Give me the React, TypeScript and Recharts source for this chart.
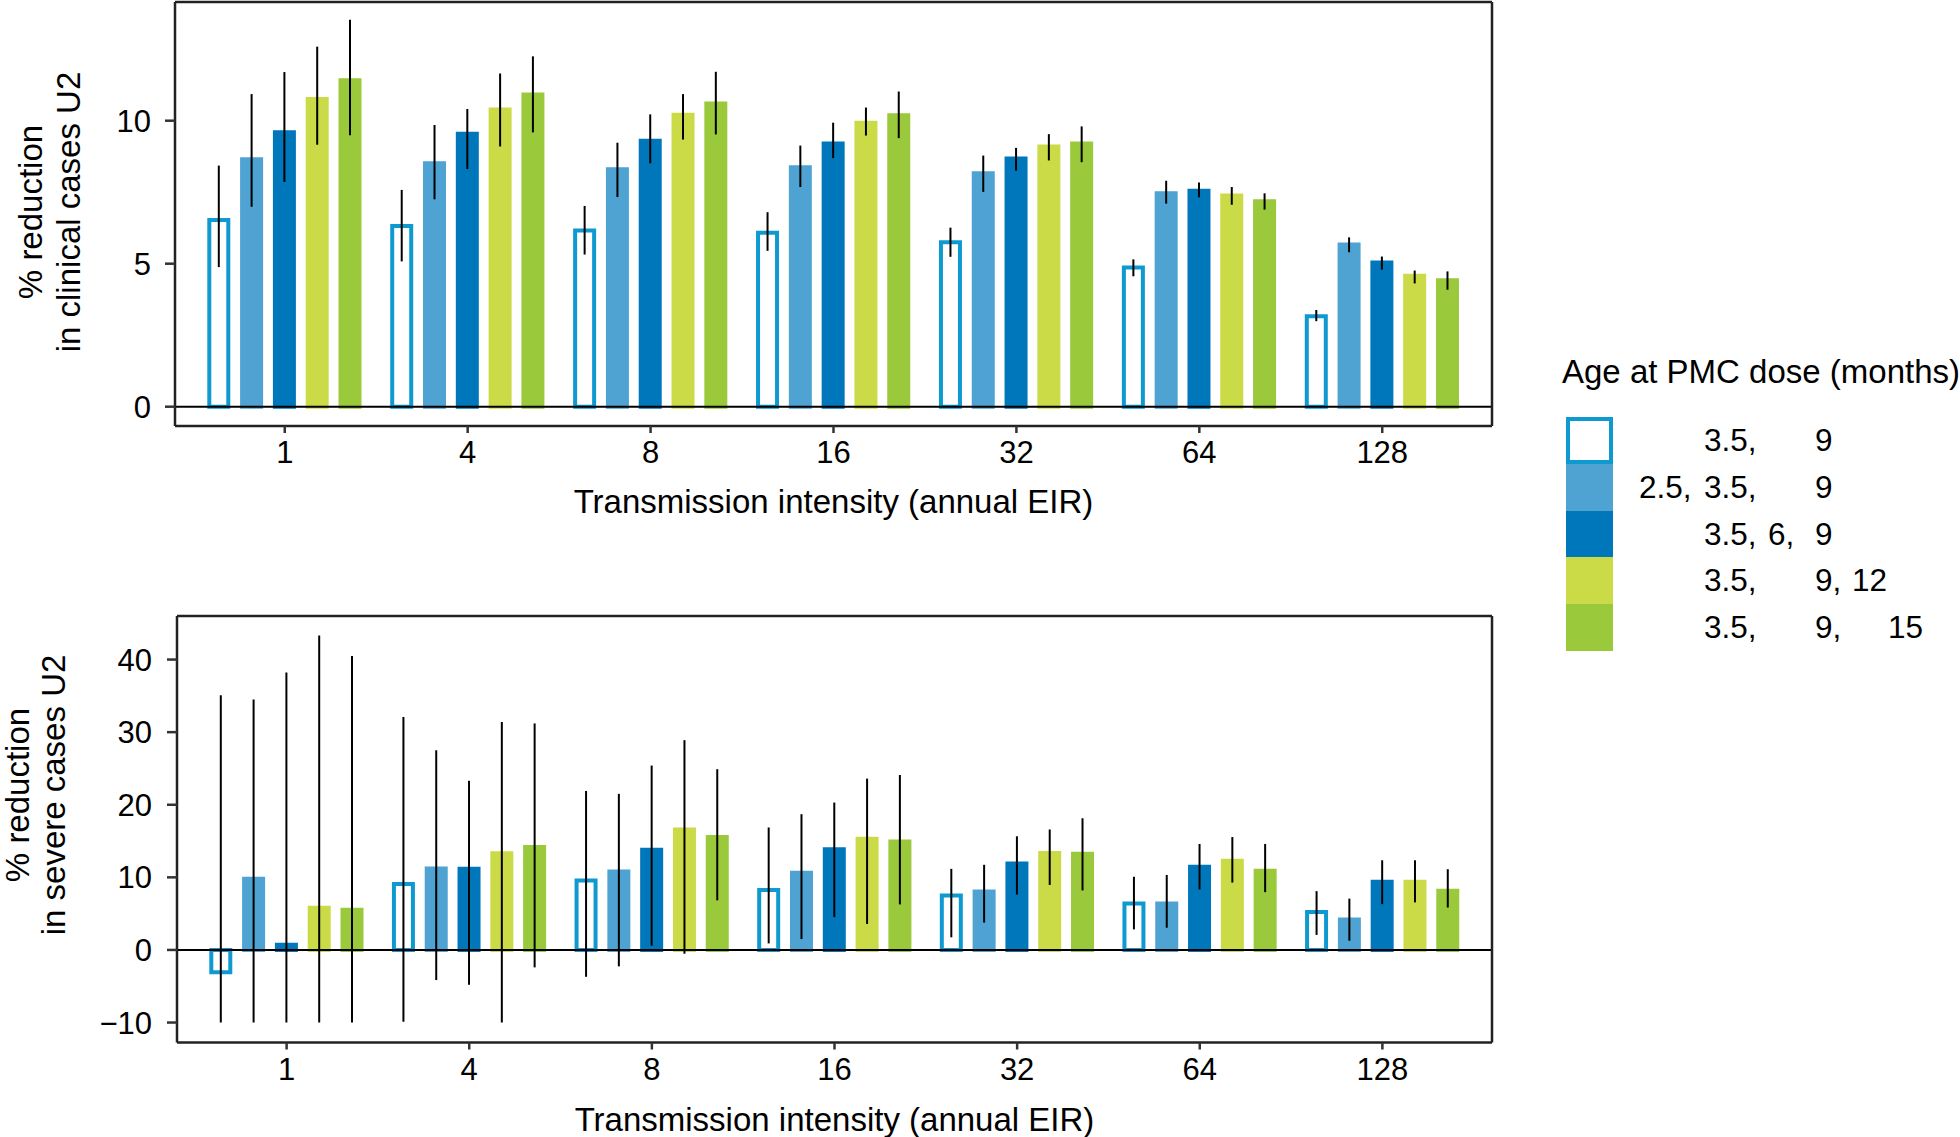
import React from 'react';
import { BarChart, Bar, XAxis, YAxis, ErrorBar, ReferenceLine, Legend } from 'recharts';

// ---------- data ----------
const CATEGORIES = ['1', '4', '8', '16', '32', '64', '128'];
const SERIES_NAMES = ['3.5, 9', '2.5, 3.5, 9', '3.5, 6, 9', '3.5, 9, 12', '3.5, 9, 15'];
const SERIES_DOSES = [[3.5, 9], [2.5, 3.5, 9], [3.5, 6, 9], [3.5, 9, 12], [3.5, 9, 15]];
const Y_TICKS_CLINICAL = [0, 5, 10];
const Y_TICKS_SEVERE = [-10, 0, 10, 20, 30, 40];
const LEGEND_TITLE = 'Age at PMC dose (months)';
const X_TITLE = 'Transmission intensity (annual EIR)';
const Y_TITLE_CLINICAL = ['% reduction', 'in clinical cases U2'];
const Y_TITLE_SEVERE = ['% reduction', 'in severe cases U2'];

// clinical cases
const CLIN_S1 = [6.53, 6.32, 6.16, 6.08, 5.75, 4.87, 3.16];
const CLIN_S1_LO = [4.88, 5.08, 5.32, 5.45, 5.24, 4.56, 2.99];
const CLIN_S1_HI = [8.43, 7.58, 7.02, 6.8, 6.26, 5.15, 3.38];
const CLIN_S2 = [8.65, 8.51, 8.3, 8.37, 8.16, 7.46, 5.67];
const CLIN_S2_LO = [6.99, 7.25, 7.33, 7.68, 7.51, 7.1, 5.4];
const CLIN_S2_HI = [10.93, 9.85, 9.23, 9.13, 8.78, 7.9, 5.92];
const CLIN_S3 = [9.6, 9.54, 9.3, 9.2, 8.68, 7.55, 5.04];
const CLIN_S3_LO = [7.86, 8.31, 8.51, 8.69, 8.25, 7.32, 4.79];
const CLIN_S3_HI = [11.7, 10.41, 10.22, 9.93, 9.05, 7.84, 5.25];
const CLIN_S4 = [10.76, 10.39, 10.21, 9.93, 9.1, 7.38, 4.58];
const CLIN_S4_LO = [9.16, 9.1, 9.34, 9.48, 8.61, 7.06, 4.31];
const CLIN_S4_HI = [12.59, 11.65, 10.93, 10.46, 9.53, 7.68, 4.76];
const CLIN_S5 = [11.41, 10.92, 10.6, 10.19, 9.2, 7.18, 4.42];
const CLIN_S5_LO = [9.49, 9.59, 9.52, 9.39, 8.55, 6.89, 4.09];
const CLIN_S5_HI = [13.53, 12.25, 11.71, 11.02, 9.8, 7.46, 4.73];

// severe cases
const SEV_S1 = [-3.07, 9.1, 9.57, 8.25, 7.5, 6.41, 5.23];
const SEV_S1_LO = [-10, -9.9, -3.7, 0.9, 1.74, 2.83, 2.07];
const SEV_S1_HI = [35.1, 32.1, 21.9, 16.87, 11.17, 10.08, 8.1];
const SEV_S2 = [9.8, 11.22, 10.79, 10.65, 8.06, 6.41, 4.2];
const SEV_S2_LO = [-10, -4.15, -2.26, 1.5, 3.77, 3.06, 1.27];
const SEV_S2_HI = [34.5, 27.5, 21.5, 18.7, 11.73, 10.32, 7.07];
const SEV_S3 = [0.71, 11.17, 13.81, 13.86, 11.92, 11.45, 9.38];
const SEV_S3_LO = [-10, -4.8, 0.57, 4.52, 7.63, 8.34, 6.31];
const SEV_S3_HI = [38.2, 23.3, 25.4, 20.3, 15.65, 14.6, 12.35];
const SEV_S4 = [5.8, 13.32, 16.59, 15.32, 13.34, 12.3, 9.38];
const SEV_S4_LO = [-10, -10, -0.52, 3.58, 8.95, 9.28, 6.55];
const SEV_S4_HI = [43.3, 31.4, 28.9, 23.6, 16.59, 15.55, 12.35];
const SEV_S5 = [5.52, 14.19, 15.55, 14.94, 13.24, 10.92, 8.16];
const SEV_S5_LO = [-10, -2.4, 6.83, 6.27, 8.2, 7.96, 5.84];
const SEV_S5_HI = [40.5, 31.2, 24.9, 24.1, 18.14, 14.6, 11.12];

// ---------- styles ----------
const FONT = '"Liberation Sans", Arial, Helvetica, sans-serif';
const COLORS = ['#0E9AD0', '#4FA3D3', '#0077BB', '#CBDB47', '#9BC93C'];
const FILLS = ['#FFFFFF', COLORS[1], COLORS[2], COLORS[3], COLORS[4]];
const FRAME = '#222222';
const DOSE_COLUMN_X: Record<string, number> = { '2.5': 99, '3.5': 164, '6': 228, '9': 275, '12': 312, '15': 348 };

function buildRows(vals: number[][], los: number[][], his: number[][]) {
  return CATEGORIES.map((cat, i) => {
    const row: any = { cat };
    vals.forEach((v, s) => {
      row['s' + s] = v[i];
      row['e' + s] = [v[i] - los[s][i], his[s][i] - v[i]];
    });
    return row;
  });
}

const clinicalData = buildRows(
  [CLIN_S1, CLIN_S2, CLIN_S3, CLIN_S4, CLIN_S5],
  [CLIN_S1_LO, CLIN_S2_LO, CLIN_S3_LO, CLIN_S4_LO, CLIN_S5_LO],
  [CLIN_S1_HI, CLIN_S2_HI, CLIN_S3_HI, CLIN_S4_HI, CLIN_S5_HI]
);
const severeData = buildRows(
  [SEV_S1, SEV_S2, SEV_S3, SEV_S4, SEV_S5],
  [SEV_S1_LO, SEV_S2_LO, SEV_S3_LO, SEV_S4_LO, SEV_S5_LO],
  [SEV_S1_HI, SEV_S2_HI, SEV_S3_HI, SEV_S4_HI, SEV_S5_HI]
);

const minusFormat = (v: number) => String(v).replace('-', '\u2212');

function YTitle(props: any) {
  const { baseX, centerY, lines, gap } = props;
  return (
    <text transform={`translate(${baseX},${centerY}) rotate(-90)`} textAnchor="middle" fontSize={33} fontFamily={FONT} fill="#000">
      {lines.map((l: string, i: number) => (
        <tspan key={i} x={0} y={i * gap}>{l}</tspan>
      ))}
    </text>
  );
}

function XTitle(props: any) {
  const { cx, baseY, text } = props;
  return (
    <text x={cx} y={baseY} textAnchor="middle" fontSize={33} fontFamily={FONT} fill="#000">{text}</text>
  );
}

function LegendContent() {
  return (
    <div style={{ position: 'relative', width: 420, height: 320, fontFamily: FONT, color: '#000' }}>
      <div style={{ position: 'absolute', left: 22, top: 12, fontSize: 33, lineHeight: '40px', whiteSpace: 'nowrap' }}>{LEGEND_TITLE}</div>
      {SERIES_DOSES.map((doses, i) => (
        <div key={i} title={SERIES_NAMES[i]} style={{ position: 'absolute', left: 0, top: 77.3 + i * 46.7, height: 46.7, width: 420 }}>
          <div style={{
            position: 'absolute', left: 26, top: 0, width: 47, height: 46.7, boxSizing: 'border-box',
            background: FILLS[i], border: i === 0 ? `4px solid ${COLORS[0]}` : 'none',
          }} />
          {doses.map((d, j) => (
            <span key={j} style={{ position: 'absolute', left: DOSE_COLUMN_X[String(d)], top: 0, lineHeight: '46.7px', fontSize: 31.5, whiteSpace: 'nowrap' }}>
              {String(d) + (j < doses.length - 1 ? ',' : '')}
            </span>
          ))}
        </div>
      ))}
    </div>
  );
}

const tickStyle = { fontSize: 31, fill: '#000', fontFamily: FONT };
const frameLine = { stroke: FRAME, strokeWidth: 2.5 };
const tickLine = { stroke: '#333', strokeWidth: 2.5 };

function renderBars() {
  return [0, 1, 2, 3, 4].map((s) => (
    <Bar
      key={s}
      dataKey={'s' + s}
      name={SERIES_NAMES[s]}
      fill={FILLS[s]}
      stroke={COLORS[s]}
      strokeWidth={4}
      isAnimationActive={false}
    >
      <ErrorBar dataKey={'e' + s} width={0} stroke="#000" strokeWidth={2} direction="y" isAnimationActive={false} />
    </Bar>
  ));
}

function frameAxes() {
  return [
    <XAxis key="xt" xAxisId="top" orientation="top" dataKey="cat" height={1} tick={false} tickLine={false} axisLine={frameLine} padding={{ left: 18.3, right: 18.3 }} />,
    <YAxis key="yr" yAxisId="r" orientation="right" type="number" domain={[0, 1]} width={1} tick={false} tickLine={false} axisLine={frameLine} />,
  ];
}

export default function App() {
  return (
    <div style={{ position: 'absolute', left: 0, top: 0, width: 1960, height: 1137, background: '#fff', overflow: 'hidden' }}>
      <BarChart
        width={1960}
        height={560}
        data={clinicalData}
        margin={{ top: 1, right: 467, bottom: 0, left: 0 }}
        barSize={19}
        barGap={13.8}
      >
        <XAxis
          dataKey="cat"
          interval={0}
          height={134}
          padding={{ left: 18.3, right: 18.3 }}
          tickSize={7}
          tickMargin={8}
          tick={tickStyle}
          tickLine={tickLine}
          axisLine={frameLine}
          label={<XTitle cx={833.5} baseY={513} text={X_TITLE} />}
        />
        <YAxis
          type="number"
          domain={[-0.675, 14.15]}
          allowDataOverflow
          ticks={Y_TICKS_CLINICAL}
          width={175}
          tickSize={10}
          tickMargin={14}
          tick={tickStyle}
          tickLine={tickLine}
          axisLine={frameLine}
          tickFormatter={minusFormat}
          label={<YTitle baseX={41.7} centerY={212} lines={Y_TITLE_CLINICAL} gap={38.3} />}
        />
        {frameAxes()}
        {renderBars()}
        <ReferenceLine y={0} stroke="#000" strokeWidth={2} />
        <Legend
          layout="vertical"
          align="center"
          verticalAlign="middle"
          content={() => <LegendContent />}
          wrapperStyle={{ top: 340, left: 1540, width: 420, height: 320 }}
        />
      </BarChart>
      <BarChart
        width={1960}
        height={577}
        data={severeData}
        margin={{ top: 55, right: 467, bottom: 0, left: 0 }}
        barSize={19}
        barGap={13.8}
      >
        <XAxis
          dataKey="cat"
          interval={0}
          height={94.5}
          padding={{ left: 18.3, right: 18.3 }}
          tickSize={7}
          tickMargin={8}
          tick={tickStyle}
          tickLine={tickLine}
          axisLine={frameLine}
          label={<XTitle cx={834.5} baseY={571} text={X_TITLE} />}
        />
        <YAxis
          type="number"
          domain={[-12.75, 46.0]}
          allowDataOverflow
          ticks={Y_TICKS_SEVERE}
          width={177}
          tickSize={10}
          tickMargin={15}
          tick={tickStyle}
          tickLine={tickLine}
          axisLine={frameLine}
          tickFormatter={minusFormat}
          label={<YTitle baseX={28.5} centerY={235} lines={Y_TITLE_SEVERE} gap={36.7} />}
        />
        {frameAxes()}
        {renderBars()}
        <ReferenceLine y={0} stroke="#000" strokeWidth={2} />
      </BarChart>
    </div>
  );
}
